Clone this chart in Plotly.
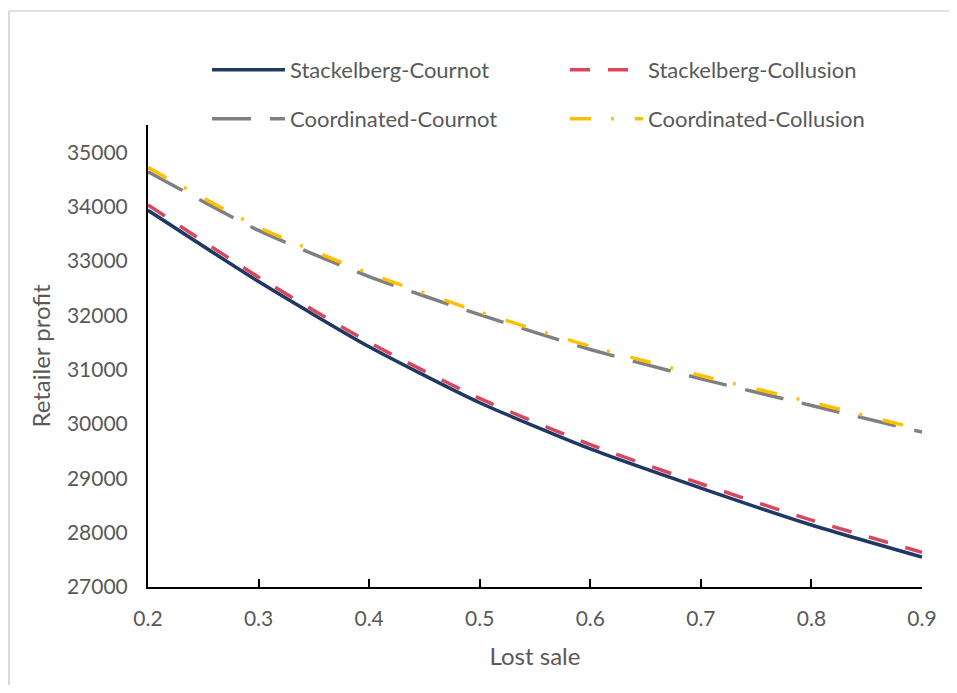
import plotly.graph_objects as go

lost_sale = [0.2, 0.3, 0.4, 0.5, 0.6, 0.7, 0.8, 0.9]
stackelberg_cournot = [33930, 32620, 31420, 30390, 29540, 28820, 28140, 27550]
stackelberg_collusion = [34030, 32700, 31500, 30470, 29620, 28900, 28230, 27640]
coordinated_cournot = [34640, 33560, 32710, 32010, 31370, 30830, 30340, 29850]
coordinated_collusion = [34720, 33620, 32770, 32060, 31430, 30890, 30400, 29890]
y_ticks = [27000, 28000, 29000, 30000, 31000, 32000, 33000, 34000, 35000]
x_ticks = [0.2, 0.3, 0.4, 0.5, 0.6, 0.7, 0.8, 0.9]

FONT = "Lato"
TXT = "#595959"

fig = go.Figure()
fig.add_trace(go.Scatter(x=lost_sale, y=stackelberg_cournot, name="Stackelberg-Cournot",
                         mode="lines", line=dict(color="#1F3864", width=3.5, shape="spline", smoothing=0.6),
                         legend="legend"))
fig.add_trace(go.Scatter(x=lost_sale, y=stackelberg_collusion, name="Stackelberg-Collusion",
                         mode="lines", line=dict(color="#D9475C", width=3.5, dash="20px,18px", shape="spline", smoothing=0.6),
                         legend="legend"))
fig.add_trace(go.Scatter(x=lost_sale, y=coordinated_cournot, name="Coordinated-Cournot",
                         mode="lines", line=dict(color="#808080", width=3.5, dash="39px,19px", shape="spline", smoothing=0.6),
                         legend="legend2"))
fig.add_trace(go.Scatter(x=lost_sale, y=coordinated_collusion, name="Coordinated-Collusion",
                         mode="lines", line=dict(color="#FFC000", width=3.5, dash="21px,20px,3px,21px", shape="spline", smoothing=0.6),
                         legend="legend2"))

legend_common = dict(orientation="h", xanchor="left", yanchor="middle",
                     x=0.0762, entrywidth=270, entrywidthmode="pixels", itemwidth=73,
                     font=dict(family=FONT, size=22, color=TXT), bgcolor="rgba(0,0,0,0)",
                     traceorder="normal")

fig.update_layout(
    width=941, height=677,
    margin=dict(l=140, r=27, t=117, b=98),
    paper_bgcolor="white", plot_bgcolor="white",
    font=dict(family=FONT, color=TXT, size=20),
    showlegend=True,
    legend=dict(legend_common, y=1.119),
    legend2=dict(legend_common, y=1.013),
    xaxis=dict(range=[0.2, 0.9], tickvals=x_ticks, ticktext=[f"{v:.1f}" for v in x_ticks],
               showgrid=False, zeroline=False, showline=True, linecolor="black", linewidth=2,
               ticks="inside", ticklen=8, tickcolor="black", tickwidth=1.5,
               ticklabelstandoff=12,
               tickfont=dict(family=FONT, size=21, color=TXT),
               title=dict(text="Lost sale", font=dict(family=FONT, size=24, color=TXT), standoff=19)),
    yaxis=dict(range=[27000, 35500], tickvals=y_ticks, ticktext=[str(v) for v in y_ticks],
               showgrid=False, zeroline=False,
               showline=True, linecolor="black", linewidth=2, ticks="",
               ticklabelstandoff=14,
               tickfont=dict(family=FONT, size=21, color=TXT),
               title=dict(text="Retailer profit", font=dict(family=FONT, size=24, color=TXT), standoff=9)),
    shapes=[
        dict(type="line", xref="paper", yref="paper", x0=-0.1796, x1=-0.1796, y0=-0.5, y1=1.2468,
             line=dict(color="#D9D9D9", width=2), layer="below"),
        dict(type="line", xref="paper", yref="paper", x0=-0.1796, x1=1.4, y0=1.2468, y1=1.2468,
             line=dict(color="#D9D9D9", width=1.5), layer="below"),
    ],
)

fig.write_html("out.html")
